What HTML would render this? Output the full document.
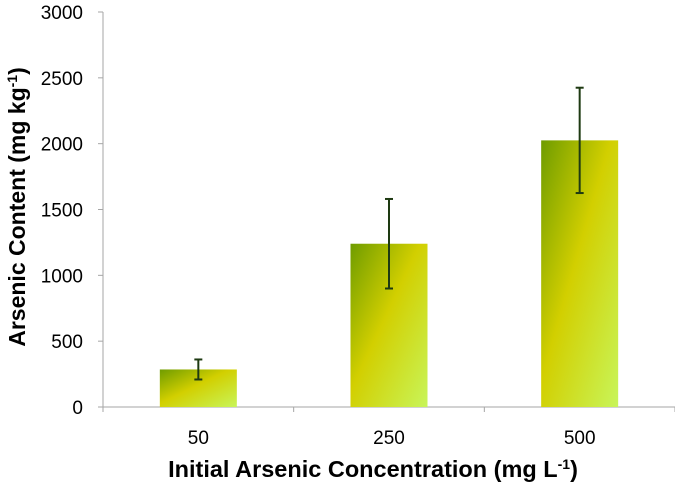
<!DOCTYPE html>
<html><head><meta charset="utf-8"><style>
html,body{margin:0;padding:0;background:#fff;}
svg{display:block;font-family:"Liberation Sans",Arial,sans-serif;}
</style></head><body>
<svg id="chart" width="675" height="488" viewBox="0 0 675 488">
<defs>
<linearGradient id="bg" x1="0" y1="0" x2="1" y2="1">
<stop offset="0" stop-color="#6f9c00"/>
<stop offset="0.45" stop-color="#d2cf00"/>
<stop offset="1" stop-color="#c8f55a"/>
</linearGradient>
</defs>
<g id="axes"></g>
<g id="bars"></g>
<text transform="translate(25,207) rotate(-90)" text-anchor="middle" font-size="23" font-weight="bold" fill="#000">Arsenic Content (mg kg<tspan baseline-shift="super" font-size="14">-1</tspan>)</text>
<text x="373" y="477" text-anchor="middle" font-size="23.5" font-weight="bold" fill="#000">Initial Arsenic Concentration (mg L<tspan baseline-shift="super" font-size="14">-1</tspan>)</text>
</svg>
<script>
const categories = ["50","250","500"];
const values = [285, 1240, 2025];
const errors = [76, 340, 400];
const yTicks = [0,500,1000,1500,2000,2500,3000];

const NS="http://www.w3.org/2000/svg";
const x0=103, x1=675, y0=407, yTop=12, yMax=3000;
const band=(x1-x0)/categories.length, barW=77;
function y(v){return y0-(v/yMax)*(y0-yTop);}
function bx(i){return x0+band*i+band/2;}
function mk(tag,attrs,parent){const e=document.createElementNS(NS,tag);for(const k in attrs)e.setAttribute(k,attrs[k]);parent.appendChild(e);return e;}
const axes=document.getElementById('axes'), bars=document.getElementById('bars');
let l=mk('line',{x1:x0,y1:yTop,x2:x0,y2:y0,stroke:'#a6a6a6','stroke-width':1},axes);


l=mk('line',{x1:x0,y1:y0,x2:x1,y2:y0,stroke:'#a6a6a6','stroke-width':1},axes);


yTicks.forEach(t=>{
  const tk=mk('line',{x1:x0-5,y1:y(t),x2:x0,y2:y(t),stroke:'#a6a6a6'},axes);
  
  
  const tx=mk('text',{x:83,y:y(t)+7,'text-anchor':'end','font-size':'19',fill:'#000'},axes);
  tx.textContent=t;
  
  
});
for(let i=0;i<=categories.length;i++){
  const tk=mk('line',{x1:x0+band*i,y1:y0,x2:x0+band*i,y2:y0+5,stroke:'#a6a6a6'},axes);
  
  
}
categories.forEach((c,i)=>{
  const tx=mk('text',{x:bx(i),y:444,'text-anchor':'middle','font-size':'19',fill:'#000'},axes);
  tx.textContent=c;
  
  
  const r=mk('rect',{x:bx(i)-barW/2,y:y(values[i]),width:barW,height:y0-y(values[i]),fill:'url(#bg)'},bars);
  
  
  const g=mk('g',{stroke:'#1e3a12','stroke-width':2},bars);
  
  
  const hi=y(values[i]+errors[i]), lo=y(values[i]-errors[i]);
  mk('line',{x1:bx(i),y1:hi,x2:bx(i),y2:lo},g);
  mk('line',{x1:bx(i)-4,y1:hi,x2:bx(i)+4,y2:hi},g);
  mk('line',{x1:bx(i)-4,y1:lo,x2:bx(i)+4,y2:lo},g);
});
</script>
</body></html>
